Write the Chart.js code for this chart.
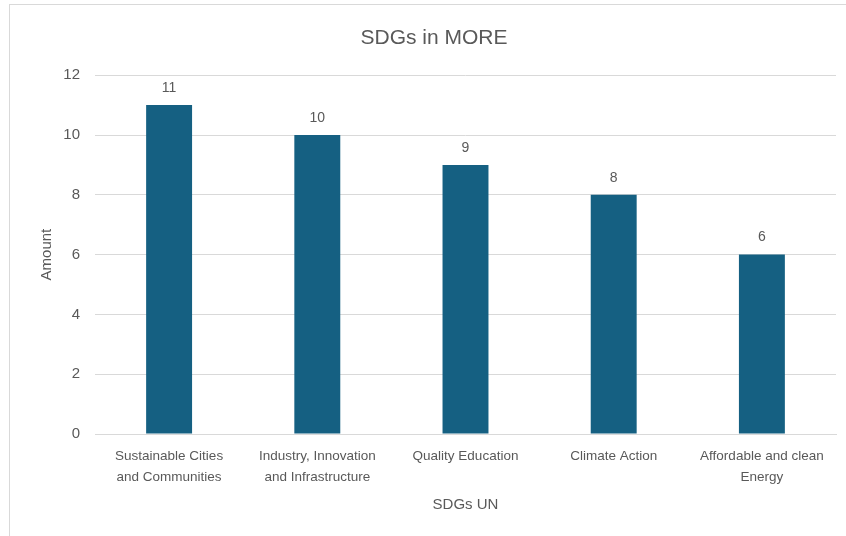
<!DOCTYPE html>
<html>
<head>
<meta charset="utf-8">
<script src="https://cdn.jsdelivr.net/npm/chart.js@4"></script>
<style>
  html, body { margin: 0; padding: 0; background: #ffffff; overflow: hidden; width: 846px; height: 536px; }
  #frame {
    position: absolute; left: 9px; top: 4px;
    width: 860px; height: 560px;
    border: 1px solid #d9d9d9; background: #ffffff;
  }
  #wrap { position: absolute; left: 0; top: 0; width: 850px; height: 560px; }
</style>
</head>
<body>
<div id="frame"><div id="wrap"><canvas id="chart"></canvas></div></div>
<script>
// Sustainable Development Goals addressed in MORE
const categories = [
  ["Sustainable Cities", "and Communities"],
  ["Industry, Innovation", "and Infrastructure"],
  "Quality Education",
  "Climate Action",
  ["Affordable and clean", "Energy"]
];
const amounts = [11, 10, 9, 8, 6];
const yTicks = [0, 2, 4, 6, 8, 10, 12];

const FONT = '"Liberation Sans", Arial, sans-serif';
const TEXT = '#595959';

// Writes each bar's value just above its top
const valueLabels = {
  id: 'valueLabels',
  afterDatasetsDraw(chart) {
    const ctx = chart.ctx;
    const meta = chart.getDatasetMeta(0);
    ctx.save();
    ctx.font = '14px ' + FONT;
    ctx.fillStyle = TEXT;
    ctx.textAlign = 'center';
    ctx.textBaseline = 'middle';
    meta.data.forEach((bar, i) => {
      ctx.fillText(String(chart.data.datasets[0].data[i]), bar.x, bar.y - 17);
    });
    ctx.restore();
  }
};

new Chart(document.getElementById('chart'), {
  type: 'bar',
  data: {
    labels: categories,
    datasets: [{
      label: 'Amount',
      data: amounts,
      backgroundColor: '#156082',
      borderWidth: 0,
      barPercentage: 0.62,
      categoryPercentage: 0.5
    }]
  },
  options: {
    responsive: true,
    maintainAspectRatio: false,
    animation: false,
    layout: { padding: { left: 22, right: 24, top: 6, bottom: 51 } },
    plugins: {
      legend: { display: false },
      tooltip: { enabled: false },
      title: {
        display: true,
        text: 'SDGs in MORE',
        color: TEXT,
        font: { family: FONT, size: 21, weight: 'normal' },
        padding: { top: 15, bottom: 24 }
      }
    },
    scales: {
      x: {
        afterFit(axis) { axis.height = 80; },
        grid: { display: false },
        border: { display: true, color: '#d9d9d9', width: 1 },
        ticks: {
          color: TEXT,
          font: { family: FONT, size: 13.5, lineHeight: 1.55 },
          maxRotation: 0,
          autoSkip: false,
          padding: 4
        },
        title: {
          display: true,
          text: 'SDGs UN',
          color: TEXT,
          font: { family: FONT, size: 15 },
          padding: { top: 0, bottom: 0 }
        }
      },
      y: {
        min: 0,
        max: 12,
        afterFit(axis) { axis.width = 63; },
        afterBuildTicks(axis) { axis.ticks = yTicks.map(v => ({ value: v })); },
        grid: { color: '#d9d9d9', lineWidth: 1, drawTicks: false },
        border: { display: false },
        ticks: {
          color: TEXT,
          font: { family: FONT, size: 15 },
          padding: 15
        },
        title: {
          display: true,
          text: 'Amount',
          color: TEXT,
          font: { family: FONT, size: 15 },
          padding: { top: 6, bottom: 0 }
        }
      }
    }
  },
  plugins: [valueLabels]
});
</script>
</body>
</html>
